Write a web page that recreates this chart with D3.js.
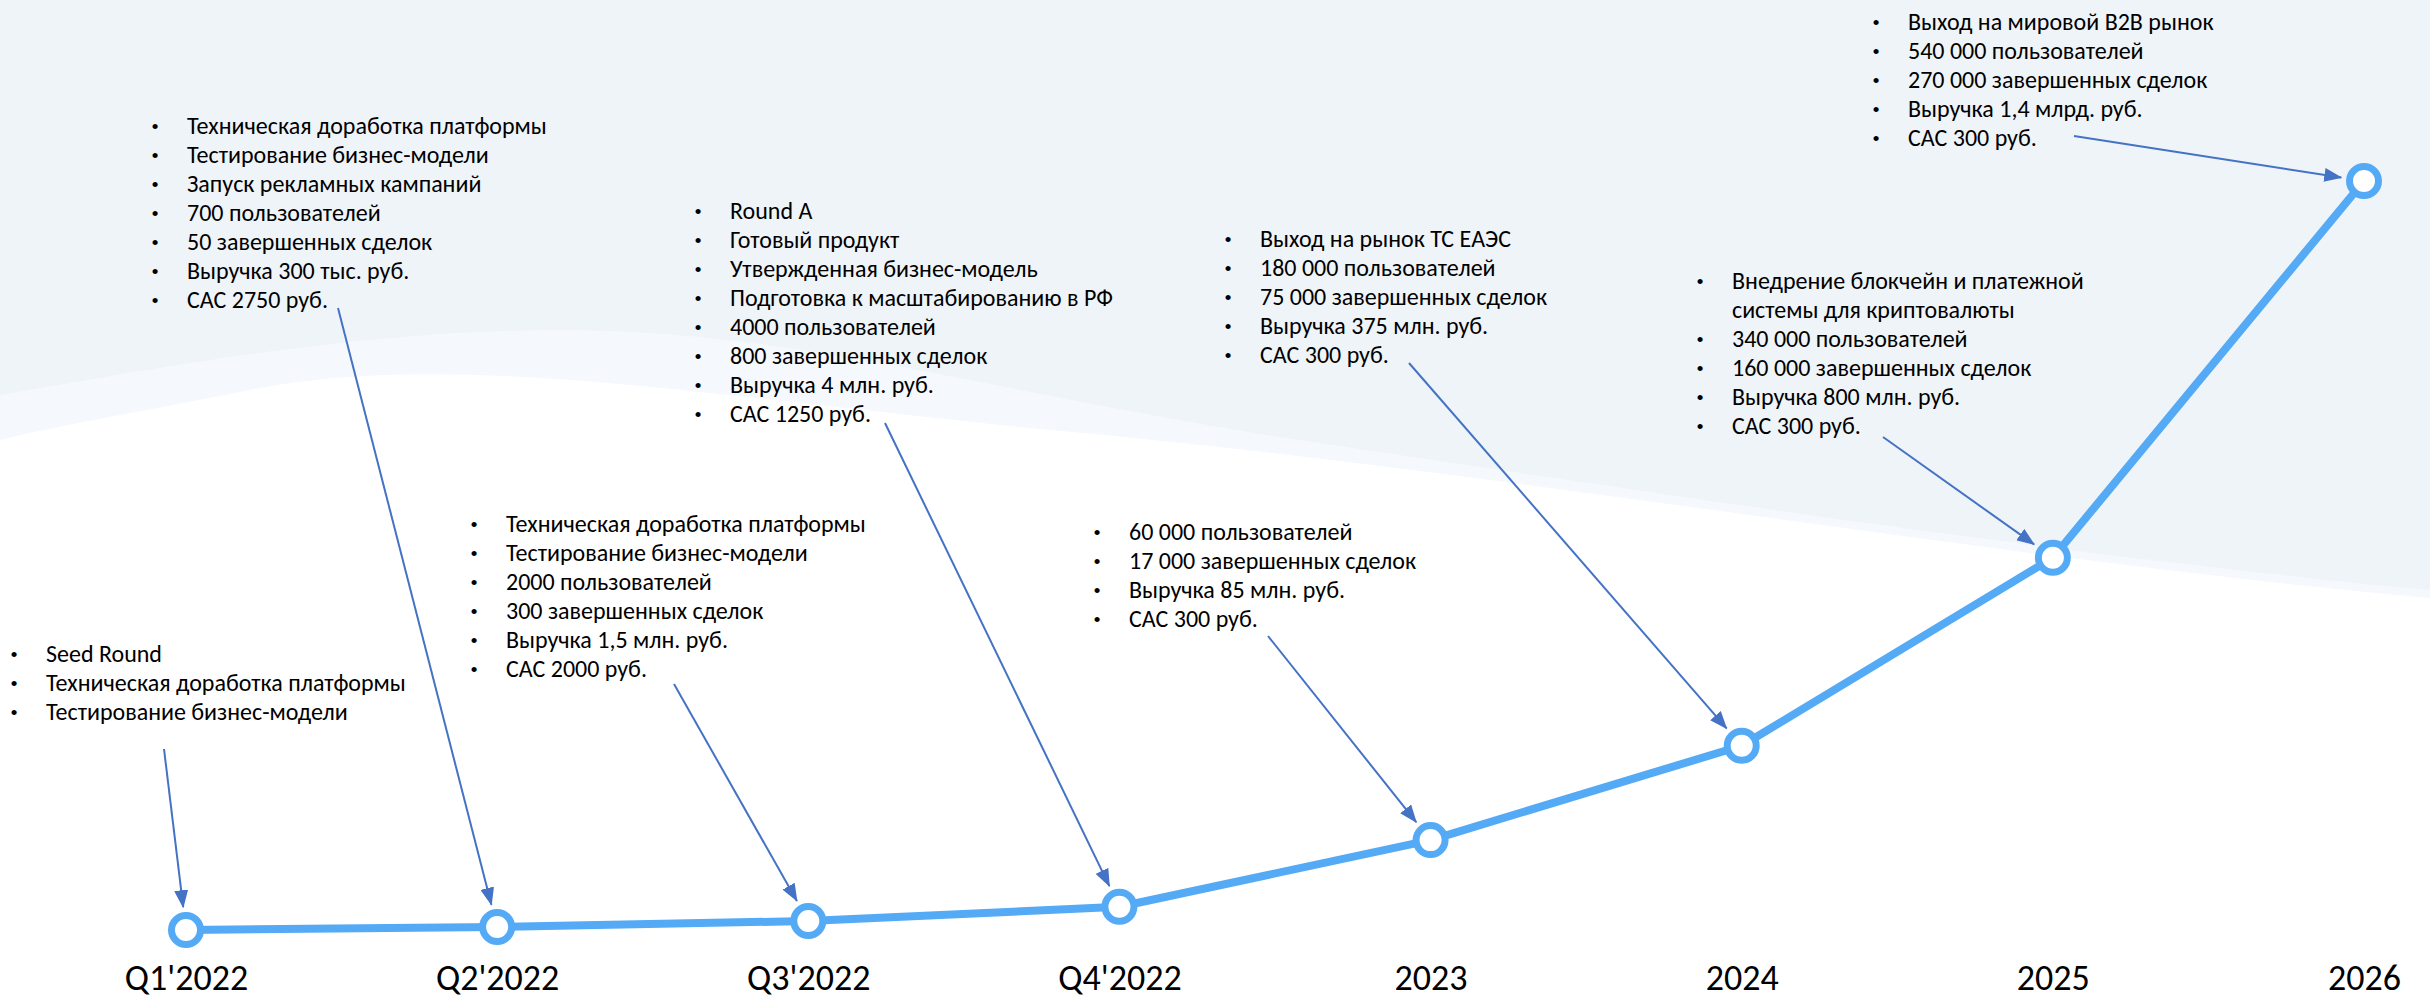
<!DOCTYPE html>
<html>
<head>
<meta charset="utf-8">
<script src="https://cdn.jsdelivr.net/npm/d3@7.9.0/dist/d3.min.js"></script>
<style>
  html, body { margin: 0; padding: 0; background: #fff; }
  svg { display: block; font-family: Carlito, Lato, "Open Sans", sans-serif; }
</style>
</head>
<body>
<svg id="chart" width="2430" height="1000"></svg>
<script>
// periods on the x axis
const periods = ["Q1'2022", "Q2'2022", "Q3'2022", "Q4'2022", "2023", "2024", "2025", "2026"];
// growth level of the curve (relative, 0..100)
const growth = [0, 0.4, 1.2, 3.1, 12, 24.6, 49.7, 100];

// milestone notes, one list per period ("~" = continuation line, no bullet)
const notes = [
  ["Seed Round", "Техническая доработка платформы", "Тестирование бизнес-модели"],
  ["Техническая доработка платформы", "Тестирование бизнес-модели", "Запуск рекламных кампаний",
   "700 пользователей", "50 завершенных сделок", "Выручка 300 тыс. руб.", "CAC 2750 руб."],
  ["Техническая доработка платформы", "Тестирование бизнес-модели", "2000 пользователей",
   "300 завершенных сделок", "Выручка 1,5 млн. руб.", "CAC 2000 руб."],
  ["Round A", "Готовый продукт", "Утвержденная бизнес-модель", "Подготовка к масштабированию в РФ",
   "4000 пользователей", "800 завершенных сделок", "Выручка 4 млн. руб.", "CAC 1250 руб."],
  ["60 000 пользователей", "17 000 завершенных сделок", "Выручка 85 млн. руб.", "CAC 300 руб."],
  ["Выход на рынок ТС ЕАЭС", "180 000 пользователей", "75 000 завершенных сделок",
   "Выручка 375 млн. руб.", "CAC 300 руб."],
  ["Внедрение блокчейн и платежной", "~системы для криптовалюты", "340 000 пользователей",
   "160 000 завершенных сделок", "Выручка 800 млн. руб.", "CAC 300 руб."],
  ["Выход на мировой B2B рынок", "540 000 пользователей", "270 000 завершенных сделок",
   "Выручка 1,4 млрд. руб.", "CAC 300 руб."]
];

// where each note sits: bullet x, first baseline, arrow start x, arrow start y
const noteLayout = [
  [14, 662, 164, 749],
  [155, 134, 338, 308],
  [474, 532, 674, 684],
  [698, 219, 885, 423],
  [1097, 540, 1268, 636],
  [1228, 247, 1409, 363],
  [1700, 289, 1883, 437],
  [1876, 30, 2074, 136]
];

const W = 2430, H = 1000;
const svg = d3.select("#chart");

const x = d3.scalePoint().domain(periods).range([186, 2364]);
const y = d3.scaleLinear().domain([0, 100]).range([930, 181]);

// background waves
svg.append("rect").attr("width", W).attr("height", H).attr("fill", "#ffffff");
svg.append("path")
  .attr("d", "M0,0 H2430 V598 C2000,560 1500,470 1050,430 C700,395 450,350 250,390 C150,410 60,425 0,440 Z")
  .attr("fill", "#f5f8fc");
svg.append("path")
  .attr("d", "M0,0 H2430 V590 C2100,560 1700,500 1300,440 C1000,395 800,330 560,330 C350,330 150,370 0,395 Z")
  .attr("fill", "#eff4f9");

// arrow marker
const defs = svg.append("defs");
defs.append("marker")
  .attr("id", "arrow")
  .attr("viewBox", "0 0 18 14")
  .attr("refX", 17).attr("refY", 7)
  .attr("markerWidth", 18).attr("markerHeight", 14)
  .attr("markerUnits", "userSpaceOnUse")
  .attr("orient", "auto")
  .append("path")
  .attr("d", "M0,0 L18,7 L0,14 Z")
  .attr("fill", "#4472c4");

const data = periods.map((p, i) => ({ p, v: growth[i], lines: notes[i], lay: noteLayout[i] }));

// notes
const lh = 29;
const g = svg.append("g").attr("font-size", 24).attr("fill", "#000");
data.forEach(d => {
  const [bx, by] = d.lay;
  d.lines.forEach((t, j) => {
    const cont = t.startsWith("~");
    if (!cont) {
      g.append("text").attr("x", bx).attr("y", by + j * lh - 1)
        .attr("text-anchor", "middle")
        .attr("font-family", "'Liberation Sans', Arial, sans-serif")
        .attr("font-size", 19).text("•");
    }
    g.append("text").attr("x", bx + 32).attr("y", by + j * lh)
      .text(cont ? t.slice(1) : t);
  });
});

// arrows
function tip(d) {
  const dx = x(d.p) - d.lay[2], dy = y(d.v) - d.lay[3];
  const L = Math.hypot(dx, dy);
  return [x(d.p) - dx / L * 23, y(d.v) - dy / L * 23];
}
svg.append("g").selectAll("line").data(data).join("line")
  .attr("x1", d => d.lay[2]).attr("y1", d => d.lay[3])
  .attr("x2", d => tip(d)[0])
  .attr("y2", d => tip(d)[1])
  .attr("stroke", "#4472c4").attr("stroke-width", 2)
  .attr("marker-end", "url(#arrow)");

// growth line
const line = d3.line().x(d => x(d.p)).y(d => y(d.v));
svg.append("path").datum(data)
  .attr("d", line)
  .attr("fill", "none")
  .attr("stroke", "#55aaf6")
  .attr("stroke-width", 8)
  .attr("stroke-linejoin", "round");

svg.append("g").selectAll("circle").data(data).join("circle")
  .attr("cx", d => x(d.p)).attr("cy", d => y(d.v))
  .attr("r", 14.5)
  .attr("fill", "#fff")
  .attr("stroke", "#55aaf6")
  .attr("stroke-width", 7);

// x axis labels
const axis = d3.axisBottom(x).tickSize(0).tickPadding(0);
const ax = svg.append("g").attr("transform", "translate(0,960)").call(axis);
ax.select(".domain").remove();
ax.selectAll("text")
  .attr("font-size", 36)
  .attr("font-family", "Carlito, Lato, 'Open Sans', sans-serif")
  .attr("fill", "#000")
  .attr("dy", 0).attr("y", 30);
</script>
</body>
</html>
